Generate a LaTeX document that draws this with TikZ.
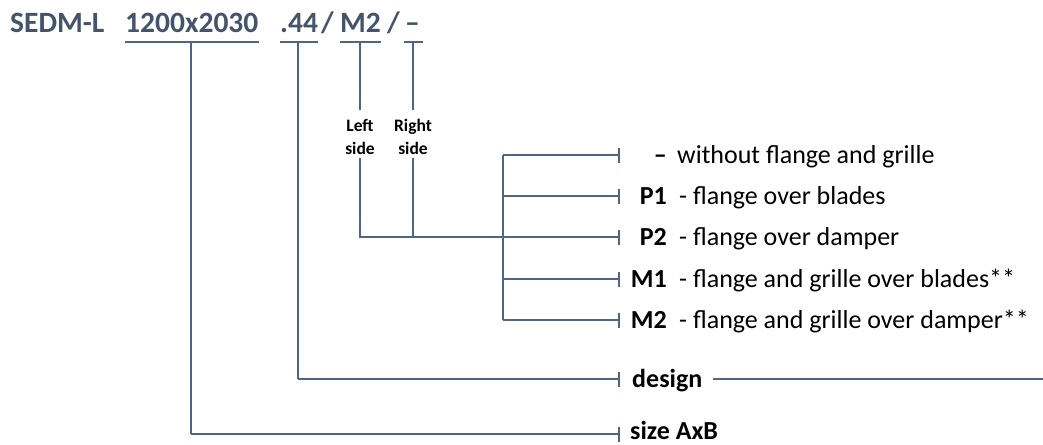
\documentclass[tikz,border=0pt]{standalone}
\usepackage{fontspec}
\setmainfont{Carlito}
\usetikzlibrary{arrows.meta}
\definecolor{ttl}{RGB}{68,84,106}
\definecolor{ln}{RGB}{80,100,136}
\tikzset{
  conn/.style={draw=ln, line width=2.5pt},
  tick/.style={conn, -{Bar[width=15pt,line width=2.5pt]}},
  ttext/.style={anchor=base west, inner sep=0pt, text=ttl, font=\fontsize{29.5}{34}\selectfont\bfseries},
  code/.style={anchor=base east, inner sep=0pt, font=\fontsize{26}{30}\selectfont\bfseries},
  desc/.style={anchor=base west, inner sep=0pt, font=\fontsize{26}{30}\selectfont},
  lbl/.style={anchor=base west, inner sep=0pt, font=\fontsize{26}{30}\selectfont\bfseries},
  side/.style={inner sep=0pt, align=center, font=\fontsize{17.5}{23}\selectfont\bfseries},
}
\begin{document}
\begin{tikzpicture}[x=1pt,y=-1pt]
\useasboundingbox (0,0) rectangle (1043,444);
% title
\node[ttext] (t0) at (10,33) {SEDM-L};
\node[ttext] (t1) at (125,33) {1200x2030};
\node[ttext] (t2) at (280,33) {.44};
\node[ttext] (s1) at (321,33) {/};
\node[ttext] (t3) at (340,33) {M2};
\node[ttext] (s2) at (387,33) {/};
\node[ttext] (t4) at (405,33) {–};
% underlines
\coordinate (u1) at (191,42);
\coordinate (u2) at (298,42);
\coordinate (u3) at (360,42);
\coordinate (u4) at (413,42);
\draw[conn] ([yshift=-9]t1.base west) -- ([yshift=-9]t1.base east);
\draw[conn] ([yshift=-9]t2.base west) -- ([yshift=-9]t2.base east);
\draw[conn] ([yshift=-9]t3.base west) -- ([yshift=-9]t3.base east);
\draw[conn] (404,42) -- (423,42);
% side labels
\node[side] (ls) at (360,137) {Left\\side};
\node[side] (rs) at (413,137) {Right\\side};
% joints
\coordinate (j3) at (360,237);
\coordinate (j4) at (413,237);
\coordinate (b0) at (503,155);
\coordinate (b1) at (503,196);
\coordinate (b2) at (503,237);
\coordinate (b3) at (503,279);
\coordinate (b4) at (503,320);
\coordinate (d0) at (298,379);
\coordinate (e0) at (191,434);
% ends of ticks
\coordinate (k0) at (620,155);
\coordinate (k1) at (620,196);
\coordinate (k2) at (620,237);
\coordinate (k3) at (620,279);
\coordinate (k4) at (620,320);
\coordinate (kd) at (620,379);
\coordinate (ke) at (620,434);
\coordinate (dend) at (1043,379);
% connectors
\draw[conn] (u3) -- (360,110);
\draw[conn] (u4) -- (413,110);
\draw[conn] (360,158) -- (j3) -- (b2);
\draw[conn] (413,158) -- (j4);
\draw[conn] (b0) -- (b4);
\draw[tick] (b0) -- (k0);
\draw[tick] (b1) -- (k1);
\draw[tick] (b2) -- (k2);
\draw[tick] (b3) -- (k3);
\draw[tick] (b4) -- (k4);
\draw[conn] (u2) -- (d0);
\draw[tick] (d0) -- (kd);
\draw[conn] (u1) -- (e0);
\draw[tick] (e0) -- (ke);
% option texts
\node[code] (c0) at (667,163) {–};
\node[desc] (x0) at (677,163) {without flange and grille};
\node[code] (c1) at (667,204) {P1};
\node[desc] (x1) at (679,204) {- flange over blades};
\node[code] (c2) at (667,245) {P2};
\node[desc] (x2) at (679,245) {- flange over damper};
\node[code] (c3) at (667,287) {M1};
\node[desc] (x3) at (679,287) {- flange and grille over blades**};
\node[code] (c4) at (667,328) {M2};
\node[desc] (x4) at (679,328) {- flange and grille over damper**};
\node[lbl] (dg) at (632,387) {design};
\draw[conn] ([xshift=11]dg.east |- kd) -- (dend);
\node[lbl] (sz) at (630,439) {size AxB};
\end{tikzpicture}
\end{document}
